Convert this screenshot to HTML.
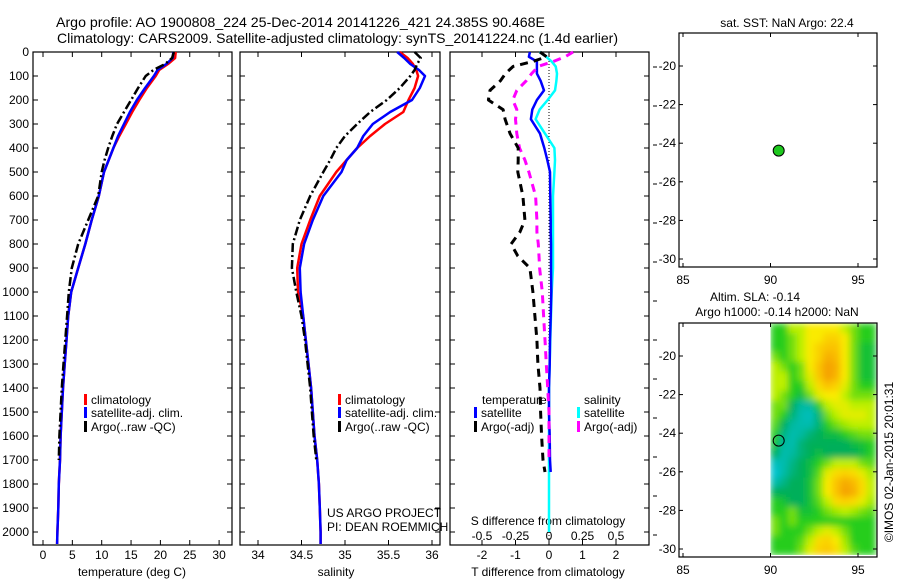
<!DOCTYPE html>
<html><head><meta charset="utf-8"><style>
html,body{margin:0;padding:0;background:#fff;width:900px;height:580px;overflow:hidden}
svg{display:block;font-family:"Liberation Sans",sans-serif}
</style></head><body>
<svg id="fig" width="900" height="580" viewBox="0 0 900 580" xmlns="http://www.w3.org/2000/svg">
<defs>
<filter id="blur" x="0" y="0" width="1" height="1"><feGaussianBlur stdDeviation="3.5" edgeMode="duplicate"/></filter>
<clipPath id="slaclip"><rect x="768" y="323" width="109" height="232"/></clipPath>
</defs>
<text x="56" y="27" font-size="14" textLength="489" lengthAdjust="spacingAndGlyphs">Argo profile: AO 1900808_224 25-Dec-2014 20141226_421 24.385S 90.468E</text>
<text x="57" y="43" font-size="14" textLength="561" lengthAdjust="spacingAndGlyphs">Climatology: CARS2009. Satellite-adjusted climatology: synTS_20141224.nc (1.4d earlier)</text>
<g clip-path="url(#slaclip)"><g id="heat" filter="url(#blur)"></g></g>
<g id="g"></g>
</svg>
<script>
// ---------- data ----------
const depths = [0,25,50,75,100,150,200,250,300,350,400,450,500,600,700,800,900,1000,1100,1200,1300,1400,1500,1600,1700,1800,1900,2000,2050];
const tempClim = [22.6,22.5,21.3,19.8,19.2,17.7,16.4,15.2,14.1,13.0,12.0,11.2,10.4,9.5,8.3,7.2,6.0,4.8,4.3,4.0,3.7,3.4,3.2,3.0,2.9,2.7,2.6,2.45,2.4];
const tempSat  = [22.2,22.1,21.0,19.5,18.9,17.4,16.0,14.8,13.8,12.8,12.0,11.2,10.4,9.5,8.3,7.2,6.0,4.8,4.3,4.0,3.7,3.4,3.2,3.0,2.9,2.7,2.6,2.45,2.4];
const tempArgo = [22.3,22.0,20.8,18.8,17.5,16.2,15.0,13.8,12.6,11.8,11.1,10.5,10.0,9.4,7.7,6.0,4.9,4.4,4.1,3.8,3.5,3.2,3.0,2.8,2.7];
const salClim = [35.63,35.72,35.78,35.82,35.84,35.80,35.73,35.67,35.46,35.29,35.14,35.02,34.90,34.71,34.60,34.50,34.45,34.46,34.52,34.55,34.58,34.61,34.63,34.65,34.68,34.70,34.71,34.72,34.72];
const salSat  = [35.60,35.68,35.75,35.85,35.92,35.86,35.77,35.52,35.32,35.21,35.14,35.02,34.96,34.75,34.63,34.53,34.48,34.49,34.52,34.55,34.58,34.61,34.63,34.65,34.68,34.70,34.71,34.72,34.72];
const salArgo = [35.80,35.87,35.83,35.80,35.75,35.63,35.48,35.29,35.14,35.00,34.90,34.83,34.75,34.60,34.48,34.40,34.39,34.44,34.50,34.54,34.57,34.60,34.62,34.64,34.67];
const dDepths = [0,20,40,60,90,120,160,200,240,280,340,400,450,500,600,700,750,800,850,900,1000,1100,1200,1300,1400,1500,1600,1700,1750,1800,1900,2000];
const dTargo = [-0.27,-0.07,-0.5,-1.07,-1.3,-1.45,-1.76,-1.81,-1.37,-1.31,-1.16,-0.92,-0.92,-0.93,-0.78,-0.72,-0.87,-1.13,-0.93,-0.57,-0.48,-0.42,-0.36,-0.33,-0.27,-0.25,-0.22,-0.18,-0.12];
const dSargo = [0.18,0.12,0.03,-0.08,-0.13,-0.17,-0.24,-0.27,-0.24,-0.25,-0.24,-0.22,-0.18,-0.15,-0.10,-0.09,-0.09,-0.08,-0.075,-0.07,-0.05,-0.04,-0.03,-0.02,-0.01,0,0,0];
const dTsat = [-0.57,-0.6,-0.36,-0.36,-0.36,-0.25,-0.15,-0.36,-0.5,-0.54,-0.27,-0.14,-0.05,0.03,0.04,0.05,0.05,0.06,0.06,0.06,0.07,0.05,0.03,0.02,0.0,0.0,0.02,0.03,0.05];
const dSsat = [-0.07,-0.02,0.02,0.05,0.06,0.055,0.045,-0.01,-0.07,-0.1,-0.03,0.04,0.045,0.04,0.03,0.03,0.03,0.03,0.03,0.03,0.02,0.015,0.01,0.005,0,0,0,0,0,0,0,0];
const tempTicks = [0,5,10,15,20,25,30];
const salTicks = [34,34.5,35,35.5,36];
const salTickLabels = ["34","34.5","35","35.5","36"];
const dTticks = [-2,-1,0,1,2];
const dSticks = [-0.5,-0.25,0,0.25,0.5];
const depthTicks = [0,100,200,300,400,500,600,700,800,900,1000,1100,1200,1300,1400,1500,1600,1700,1800,1900,2000];
const argoLon = 90.468, argoLat = -24.385;
const lonTicks = [85,90,95];
const latTicks = [-20,-22,-24,-26,-28,-30];
const slaGrid = [
[2,2,3,3,3.5,3.5,3.5,3.5,3,2.5,2,2],
[2,2,2.5,3,3.5,3.5,4,4,3.5,2.5,2,2],
[2,2,2.5,3,3.5,4,4.3,4.3,3.5,2.5,1.8,1.8],
[2.5,2,2.5,3,3.5,4,4.7,4.5,3.5,2.5,1.8,1.8],
[3,2.5,2,2.5,3.5,4.3,5,4.7,3.5,2.5,1.8,1.8],
[3,3,2,2.5,3.3,4.2,5,4.6,3.5,2.5,1.8,1.8],
[3,3,2,2,3,3.8,4.3,4,3.3,2.5,2,2],
[3,2.5,2,1.7,2.5,3.3,3.5,3.5,3,2.5,2.5,2.5],
[2.5,2.5,1.5,1,1,2,3,3.3,3.3,3,3,3],
[2.5,2,1.3,0.8,0.6,1.3,2.5,3,3.3,3.3,3.3,3],
[2.3,1.5,1,0.8,0.8,1.3,2,2.5,2.8,3,3,3],
[2,1.2,0.8,1,1.3,1.5,1.7,1.7,2,2.3,2.5,2.5],
[1.8,1,0.8,1.3,1.5,1.5,1.5,1.5,1.5,1.7,1.8,2],
[1.5,0.8,1,1.3,1.5,1.7,1.5,1.5,1.5,1.5,1.7,2],
[0.6,0.8,1.2,1.5,1.7,2,2.5,3,3,3,2.5,2.3],
[0.3,0.9,1.3,1.5,1.7,2.3,3.3,3.8,4,3.8,3.3,2.8],
[0.8,1.2,1.5,1.5,1.8,2.5,3.5,4.3,4.8,4.5,3.8,3],
[1.5,1.5,1.5,1.5,1.8,2.5,3.5,4.3,5,4.7,3.8,3],
[2,1.8,1.5,1.5,1.8,2.3,3,3.8,4,3.8,3.3,2.8],
[2,2,2.5,1.8,1.8,2,2.5,2.8,3,2.8,2.5,2.3],
[2.5,2,2.5,2,2,2,2,2,2,2,2,2],
[2.5,2,2,2,2.5,3,3.3,3,2.5,2,2,2],
[2,2,2,2.3,3,3.8,4,3.5,2.8,2,2,2],
[2,2,2,2.5,3.3,4,4.2,3.8,3,2.3,2,2]];

// ---------- helpers ----------
const NS="http://www.w3.org/2000/svg";
const G=document.getElementById('g');
const H=document.getElementById('heat');
function el(tag,attrs,parent){const e=document.createElementNS(NS,tag);for(const k in attrs)e.setAttribute(k,attrs[k]);(parent||G).appendChild(e);return e;}
function txt(x,y,s,size,anchor){const t=el('text',{x:x,y:y,'font-size':size,'text-anchor':anchor||'start'});t.textContent=s;return t;}
const yD = d => 52 + d*0.24;
const xT = t => 43 + t*5.87;
const xS = s => 258 + (s-34)*87;
const xDT = v => 549 + v*33.5;
const xDS = v => 549 + v*134;
function line(xs,ys,color,w,dash,name){
  const pts=[];for(let i=0;i<xs.length;i++)pts.push(xs[i].toFixed(1)+','+ys[i].toFixed(1));
  const p=el('polyline',{points:pts.join(' '),fill:'none',stroke:color,'stroke-width':w,'stroke-linejoin':'round'});
  if(dash)p.setAttribute('stroke-dasharray',dash);
  
  
  return p;
}
function frame(x0,x1,name){
  const r=el('rect',{x:x0,y:52,width:x1-x0,height:493,fill:'none',stroke:'#000','stroke-width':1.2});
  
  
}
function legend(x,y,color,label,name){
  const b=el('rect',{x:x,y:y-10,width:3,height:11,fill:color});
  
  
  const t=txt(x+7,y,label,12);
  
  
}

// ---------- panel frames & depth ticks ----------
frame(33,232,'temperature-panel');
frame(240,440,'salinity-panel');
frame(450,649,'difference-panel');
depthTicks.forEach(d=>{
  const y=yD(d);
  const t=txt(29,y+4,String(d),12,'end');
  
  
  [[33,38],[227,232],[240,245],[435,440],[450,455],[644,649]].forEach(a=>el('line',{x1:a[0],x2:a[1],y1:y,y2:y,stroke:'#000'}));
});
for(let y=67;y<560;y+=39){el('line',{x1:653,x2:657,y1:y,y2:y,stroke:'#000'});}

tempTicks.forEach(t=>{const x=xT(t);el('line',{x1:x,x2:x,y1:52,y2:57,stroke:'#000'});el('line',{x1:x,x2:x,y1:540,y2:545,stroke:'#000'});
  const l=txt(x,559,String(t),12,'middle');});
let at=txt(132,576,'temperature (deg C)',12,'middle');
salTicks.forEach((s,i)=>{const x=xS(s);el('line',{x1:x,x2:x,y1:52,y2:57,stroke:'#000'});el('line',{x1:x,x2:x,y1:540,y2:545,stroke:'#000'});
  const l=txt(x,559,salTickLabels[i],12,'middle');});
at=txt(336,576,'salinity',12,'middle');
dTticks.forEach(v=>{const x=xDT(v);el('line',{x1:x,x2:x,y1:52,y2:57,stroke:'#000'});el('line',{x1:x,x2:x,y1:540,y2:545,stroke:'#000'});
  const l=txt(x,559,String(v),12,'middle');});
dSticks.forEach(v=>{const l=txt(xDS(v),540,String(v),12,'middle');});
at=txt(548,576,'T difference from climatology',12,'middle');
at=txt(548,525,'S difference from climatology',12,'middle');
const zl=el('line',{x1:549,x2:549,y1:52,y2:545,stroke:'#000','stroke-dasharray':'1,2'});



// ---------- profiles ----------
const dy = depths.map(yD);
line(tempClim.map(xT),dy,'#f00',2.5,null,'temperature-climatology-line');
line(tempSat.map(xT),dy,'#00f',2.5,null,'temperature-satellite-line');
line(tempArgo.map(xT),dy.slice(0,tempArgo.length),'#000',2.5,'9,3,2,3','temperature-argo-line');
line(salClim.map(xS),dy,'#f00',2.5,null,'salinity-climatology-line');
line(salSat.map(xS),dy,'#00f',2.5,null,'salinity-satellite-line');
line(salArgo.map(xS),dy.slice(0,salArgo.length),'#000',2.5,'9,3,2,3','salinity-argo-line');
const ddy = dDepths.map(yD);
line(dSsat.map(xDS),ddy.slice(0,dSsat.length),'#00ffff',2.5,null,'s-satellite-diff-line');
line(dTsat.map(xDT),ddy.slice(0,dTsat.length),'#00f',2.5,null,'t-satellite-diff-line');
line(dSargo.map(xDS),ddy.slice(0,dSargo.length),'#f0f',3,'8,6','s-argo-diff-line');
line(dTargo.map(xDT),ddy.slice(0,dTargo.length),'#000',3,'8,6','t-argo-diff-line');

// ---------- legends ----------
legend(84,404,'#f00','climatology','legend-climatology-1');
legend(84,417,'#00f','satellite-adj. clim.','legend-satellite-1');
legend(84,431,'#000','Argo(..raw -QC)','legend-argo-1');
legend(338,404,'#f00','climatology','legend-climatology-2');
legend(338,417,'#00f','satellite-adj. clim.','legend-satellite-2');
legend(338,431,'#000','Argo(..raw -QC)','legend-argo-2');
let lt=txt(482,404,'temperature',12);
lt=txt(584,404,'salinity',12);
legend(474,417,'#00f','satellite','legend-t-satellite');
legend(474,431,'#000','Argo(-adj)','legend-t-argo');
legend(577,417,'#00ffff','satellite','legend-s-satellite');
legend(577,431,'#f0f','Argo(-adj)','legend-s-argo');
lt=txt(327,517,'US ARGO PROJECT',12);
lt=txt(327,531,'PI: DEAN ROEMMICH',12);

// ---------- maps ----------
const mLon = lon => 683 + (lon-85)*17.5;
function mapAxes(top,latY,name){
  const r=el('rect',{x:679,y:top,width:198,height:234,fill:'none',stroke:'#000','stroke-width':1.2});
  
  
  lonTicks.forEach(l=>{const x=mLon(l);el('line',{x1:x,x2:x,y1:top,y2:top+4,stroke:'#000'});el('line',{x1:x,x2:x,y1:top+230,y2:top+234,stroke:'#000'});
    const t=txt(x,top+251,String(l),12,'middle');});
  latTicks.forEach(l=>{const y=latY(l);el('line',{x1:679,x2:683,y1:y,y2:y,stroke:'#000'});el('line',{x1:873,x2:877,y1:y,y2:y,stroke:'#000'});
    const t=txt(676,y+4,String(l),12,'end');});
}
const latY1 = l => 66 + (-20 - l)*19.3;
const latY2 = l => 356 + (-20 - l)*19.3;
const slaColors=[[0,200,230],[0,185,160],[0,175,90],[40,205,30],[190,240,0],[250,235,0],[250,195,0],[245,160,0]];
const slaStops=[0,1,1.5,2,3,3.5,4.3,5];
function slaColor(v){for(let i=1;i<slaStops.length;i++){if(v<=slaStops[i]){const f=(v-slaStops[i-1])/(slaStops[i]-slaStops[i-1]);const a=slaColors[i-1],b=slaColors[i];return 'rgb('+a.map((c,k)=>Math.round(c+(b[k]-c)*f)).join(',')+')';}}return 'rgb(245,160,0)';}
slaGrid.forEach((row,ri)=>{row.forEach((v,ci)=>{
  const lat0=-18.3-ri*0.5, lon0=90+ci*0.5;
  const x0=mLon(lon0), x1=mLon(lon0+0.5);
  const y0=latY2(lat0), y1=latY2(lat0-0.5);
  const c=el('rect',{x:x0.toFixed(1),y:y0.toFixed(1),width:(x1-x0+0.6).toFixed(1),height:(y1-y0+0.6).toFixed(1),fill:slaColor(v)},H);
  
  
});});
mapAxes(33,latY1,'sst-map');
mapAxes(323,latY2,'sla-map');
const dot=el('circle',{cx:mLon(argoLon),cy:latY1(argoLat),r:5.5,fill:'#1ec81e',stroke:'#000','stroke-width':1});


const ring=el('circle',{cx:mLon(argoLon),cy:latY2(argoLat),r:5.5,fill:'none',stroke:'#000','stroke-width':1});


let mt=txt(787,27,'sat. SST: NaN Argo: 22.4',12,'middle');
mt=txt(755,301,'Altim. SLA: -0.14',12,'middle');
mt=txt(777,316,'Argo h1000: -0.14 h2000: NaN',12,'middle');
mt=txt(0,0,'©IMOS 02-Jan-2015 20:01:31',12,'middle');mt.setAttribute('transform','translate(893,462) rotate(-90)');


</script>
</body></html>
